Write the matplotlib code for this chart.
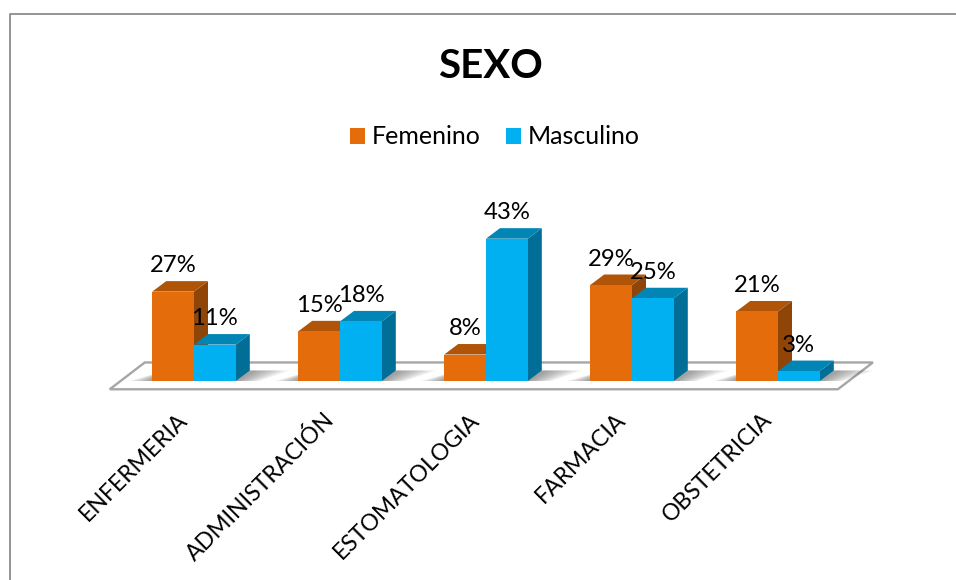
from matplotlib.lines import Line2D
from matplotlib.patches import Patch, Polygon
from matplotlib.transforms import ScaledTranslation
import matplotlib.pyplot as plt
import numpy as np

plt.rcParams['font.family'] = ['Lato', 'DejaVu Sans']

carreras = ['ENFERMERIA', 'ADMINISTRACIÓN', 'ESTOMATOLOGIA', 'FARMACIA', 'OBSTETRICIA']
femenino = [27, 15, 8, 29, 21]
masculino = [11, 18, 43, 25, 3]

W, H = 956, 580
px_x = 146.0  # pixels per category
px_y = 3.31   # pixels per percent
x0_px, y0_px = 194.0, 381.0  # where category 0, 0% falls in the picture

# Oblique depth of the 3D look, in data units
dep_x = 14.0 / px_x
dep_y = 10.5 / px_y
bar_w = 41.8 / px_x

fig = plt.figure(figsize=(W / 100, H / 100), dpi=100)
ax = fig.add_axes([0, 0, 1, 1])
ax.set_xlim(-x0_px / px_x, (W - x0_px) / px_x)
ax.set_ylim(-(H - y0_px) / px_y, y0_px / px_y)
ax.patch.set_alpha(0)
for s in ax.spines.values():
    s.set_visible(False)
ax.spines['bottom'].set_position(('data', 0))
ax.set_yticks([])

# Outer chart frame (only top and left are visible in the crop)
fig.add_artist(Line2D([9.5 / W, 9.5 / W, 1], [0, 1 - 14 / H, 1 - 14 / H], color='#8c8c8c', lw=1.3))

# Floor
fl_l, fl_r = -0.577, 4.41
fl_front, fl_back = -2.5, 5.6
ax.add_patch(Polygon([(fl_l, fl_front), (fl_r, fl_front), (fl_r + 0.24, fl_back), (fl_l + 0.24, fl_back)],
                     closed=True, fc='white', ec='#a6a6a6', lw=1.7, zorder=1))


def shadow(x, w):
    # Soft shadow on the floor, around the foot of each bar pair
    for k in range(10):
        spread = (10 - k) * 0.016
        ax.add_patch(Polygon([(x - spread, 0), (x + w + spread, 0),
                              (x + w + dep_x * 1.2 + spread * 1.6, dep_y), (x + dep_x, dep_y)],
                             closed=True, fc='#303030', ec='none', alpha=0.055, zorder=1.5))


def bar3d(x, v, front, top, side, z):
    # Front face is a real bar, top and side are offset from it
    b = ax.bar(x, v, bar_w, align='edge', color=front, linewidth=0, zorder=z + 0.2)
    ax.add_patch(Polygon([(x, v), (x + bar_w, v), (x + bar_w + dep_x, v + dep_y), (x + dep_x, v + dep_y)],
                         closed=True, fc=top, ec='none', zorder=z + 0.1))
    ax.add_patch(Polygon([(x + bar_w, 0), (x + bar_w + dep_x, dep_y), (x + bar_w + dep_x, v + dep_y), (x + bar_w, v)],
                         closed=True, fc=side, ec='none', zorder=z))
    return b


for i in range(len(carreras)):
    shadow(i - bar_w, 2 * bar_w)
    a = bar3d(i - bar_w, femenino[i], '#E46C0A', '#B05508', '#8F4507', 2 + i)
    b = bar3d(i, masculino[i], '#00B0F0', '#0085B5', '#006E96', 2.5 + i)
    ax.bar_label(a, labels=['%d%%' % femenino[i]], padding=11, fontsize=17.2, color='black', zorder=20)
    ax.bar_label(b, labels=['%d%%' % masculino[i]], padding=11, fontsize=17.2, color='black', zorder=20)

# Category labels, nudged left to sit under the bars
ax.set_xticks(range(len(carreras)))
ax.set_xticklabels(carreras, rotation=45, ha='right', rotation_mode='anchor', fontsize=16.6)
ax.tick_params(axis='x', length=0, pad=20)
nudge = ScaledTranslation(-17 / 100, 0, fig.dpi_scale_trans)
for t in ax.get_xticklabels():
    t.set_transform(t.get_transform() + nudge)

ax.text(0.5125, 1 - 67 / H, 'SEXO', transform=ax.transAxes, ha='center', va='center',
        fontsize=29, fontweight='bold', color='black')

handles = [Patch(fc='#E46C0A', label='Femenino'), Patch(fc='#00B0F0', label='Masculino')]
ax.legend(handles=handles, loc='center', bbox_to_anchor=(495 / W, 1 - 137 / H), ncol=2, frameon=False,
          fontsize=18, handlelength=0.6, handleheight=0.6, handletextpad=0.28, columnspacing=1.02)

plt.savefig('out.png', dpi=100)
